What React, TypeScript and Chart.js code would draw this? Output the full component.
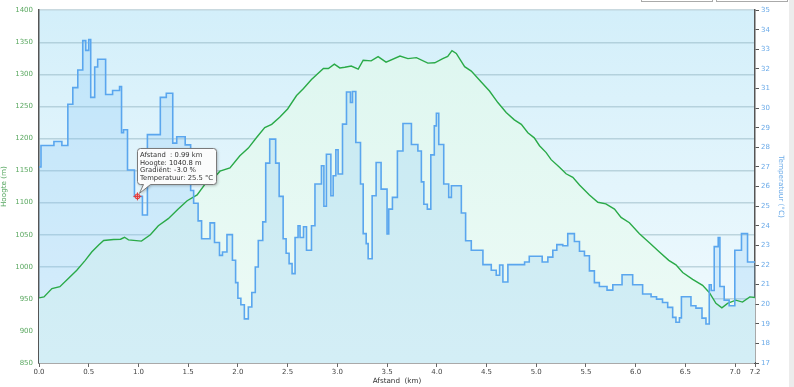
import React, { useEffect, useRef } from "react";
import { Chart, registerables } from "chart.js";

Chart.register(...registerables);

// Elevation profile (green), distance in km / height in m
const distanceKm = [
  0.0, 0.05, 0.13, 0.21, 0.3, 0.38, 0.465, 0.53, 0.6, 0.65, 0.75, 0.82, 0.86, 0.9, 1.03,
  1.12, 1.2, 1.3, 1.4, 1.49, 1.59, 1.67, 1.72, 1.82, 1.92, 2.02, 2.105, 2.19, 2.27, 2.34,
  2.42, 2.5, 2.59, 2.66, 2.74, 2.86, 2.91, 2.97, 3.025, 3.075, 3.14, 3.21, 3.26, 3.34, 3.41,
  3.49, 3.63, 3.71, 3.795, 3.91, 3.98, 4.06, 4.11, 4.153, 4.196, 4.28, 4.347, 4.447, 4.53,
  4.614, 4.698, 4.78, 4.85, 4.916, 4.98, 5.033, 5.1, 5.15, 5.234, 5.3, 5.368, 5.435, 5.535,
  5.62, 5.7, 5.787, 5.853, 5.937, 6.038, 6.138, 6.239, 6.333, 6.405, 6.473, 6.573, 6.673,
  6.74, 6.807, 6.867, 6.924, 7.007, 7.074, 7.148, 7.2,
];
const elevationM = [
  951.5, 953, 966, 969, 982.6, 994.5, 1010, 1023, 1034, 1041, 1042.5, 1043, 1046, 1042, 1040,
  1050, 1064, 1075, 1090, 1103, 1112, 1129, 1132, 1149, 1154, 1173, 1185, 1202, 1217, 1222,
  1233, 1246, 1267, 1278, 1292, 1309, 1309, 1316, 1310, 1311, 1313, 1308, 1322, 1321, 1327.5,
  1319, 1328.6, 1324.5, 1326, 1317.5, 1318, 1324.5, 1328, 1337, 1332.6, 1312, 1305, 1288, 1274,
  1256, 1240.5, 1229, 1222, 1209, 1201, 1188.7, 1178, 1167, 1155, 1145, 1139.5, 1127.6, 1112,
  1100.6, 1098, 1090, 1077, 1068.6, 1051.5, 1037.5, 1023, 1010, 1003, 991, 980.5, 971,
  960, 943, 936, 943, 948, 945, 953, 952,
];

// Temperature (blue, stepped), distance in km / temperature in °C
const tempDistanceKm = [
  0.0, 0.02, 0.15, 0.23, 0.29, 0.34, 0.39, 0.44, 0.47, 0.5, 0.52, 0.56, 0.59, 0.67, 0.74,
  0.81, 0.83, 0.85, 0.89, 0.96, 1.04, 1.09, 1.22, 1.28, 1.345, 1.385, 1.47, 1.525, 1.555,
  1.6, 1.635, 1.72, 1.765, 1.815, 1.845, 1.89, 1.945, 1.977, 2.0, 2.03, 2.065, 2.105, 2.14,
  2.175, 2.205, 2.25, 2.28, 2.32, 2.38, 2.415, 2.455, 2.485, 2.515, 2.545, 2.575, 2.605,
  2.625, 2.66, 2.69, 2.74, 2.775, 2.84, 2.865, 2.89, 2.935, 2.958, 2.985, 3.008, 3.052,
  3.092, 3.132, 3.152, 3.186, 3.233, 3.26, 3.29, 3.31, 3.35, 3.39, 3.44, 3.5, 3.517, 3.554,
  3.604, 3.66, 3.745, 3.81, 3.845, 3.87, 3.905, 3.94, 3.975, 3.996, 4.02, 4.07, 4.12, 4.147,
  4.247, 4.29, 4.347, 4.464, 4.548, 4.598, 4.632, 4.665, 4.715, 4.883, 4.93, 5.06, 5.117,
  5.167, 5.207, 5.267, 5.317, 5.384, 5.435, 5.485, 5.535, 5.585, 5.635, 5.712, 5.77, 5.863,
  5.97, 6.07, 6.155, 6.21, 6.27, 6.322, 6.372, 6.405, 6.44, 6.46, 6.556, 6.606, 6.667, 6.707,
  6.74, 6.76, 6.79, 6.83, 6.847, 6.89, 6.94, 6.997, 7.064, 7.125, 7.2,
];
const temperatureC = [
  27.0, 28.1, 28.3, 28.1, 30.2, 31.05, 31.95, 33.45, 32.95, 33.5, 30.55, 32.1, 32.5, 30.7, 30.9,
  31.1, 28.75, 28.9, 26.85, 25.5, 24.55, 28.65, 30.55, 30.76, 28.22, 28.54, 28.13, 25.8, 25.15,
  24.25, 23.34, 24.15, 23.15, 22.49, 22.66, 23.55, 22.24, 21.1, 20.3, 19.97, 19.25, 19.86, 20.6,
  21.9, 23.25, 24.2, 27.2, 28.42, 27.2, 25.5, 23.34, 22.6, 22.07, 21.56, 23.4, 24.0,
  23.4, 23.95, 22.75, 24.0, 26.13, 27.06, 25.0, 27.65, 25.53, 26.55, 27.88, 26.64, 29.19,
  30.83, 30.29, 30.85, 28.25, 26.13, 23.6, 23.09, 22.32, 25.53, 27.23, 25.87, 23.58, 24.85, 25.45,
  27.82, 29.22, 28.15, 27.82, 26.24, 25.1, 24.85, 27.62, 29.1, 29.74, 28.15, 26.13, 25.45, 26.04,
  24.65, 23.24, 22.75, 22.02, 21.73, 21.48, 22.0, 21.13, 22.02, 22.15, 22.45, 22.15, 22.4,
  22.75, 23.04, 22.98, 23.6, 23.2, 22.7, 22.47, 21.7, 21.1, 20.9, 20.72, 20.99, 21.5,
  20.99, 20.52, 20.38, 20.26, 20.09, 19.84, 19.33, 19.08, 19.3, 20.38, 19.92, 19.8, 19.29, 18.99,
  20.99, 20.7, 22.94, 23.4, 20.9, 20.21, 19.92, 22.75, 23.6, 22.15, 22.15,
];

const xTickValues = [0, 0.5, 1.0, 1.5, 2.0, 2.5, 3.0, 3.5, 4.0, 4.5, 5.0, 5.5, 6.0, 6.5, 7.0, 7.2];

const tooltipPoint = { km: 0.99, temp: 25.5 };
const tooltipLines = [
  "Afstand  : 0.99 km",
  "Hoogte: 1040.8 m",
  "Gradiënt: -3.0 %",
  "Temperatuur: 25.5 °C",
];

const FONT = "'DejaVu Sans', Verdana, sans-serif";

const backgroundPlugin = {
  id: "plotBackground",
  beforeDraw(chart: any) {
    const { ctx, chartArea } = chart;
    if (!chartArea) return;
    const { left, top, right, bottom } = chartArea;
    const g = ctx.createLinearGradient(0, top, 0, bottom);
    g.addColorStop(0, "#d3effa");
    g.addColorStop(1, "#f3fbfe");
    ctx.save();
    ctx.fillStyle = g;
    ctx.fillRect(left, top, right - left, bottom - top);
    ctx.restore();
  },
};

const tooltipPlugin = {
  id: "fixedTooltip",
  afterDraw(chart: any) {
    const ctx = chart.ctx;
    const px = chart.scales.x.getPixelForValue(tooltipPoint.km);
    const py = chart.scales.y1.getPixelForValue(tooltipPoint.temp);
    const x0 = Math.round(px) + 0.5;
    const y0 = Math.round(py - 48) + 0.5;
    const w = 79;
    const h = 36;
    const r = 3;
    ctx.save();
    ctx.beginPath();
    ctx.moveTo(x0 + r, y0);
    ctx.lineTo(x0 + w - r, y0);
    ctx.arcTo(x0 + w, y0, x0 + w, y0 + r, r);
    ctx.lineTo(x0 + w, y0 + h - r);
    ctx.arcTo(x0 + w, y0 + h, x0 + w - r, y0 + h, r);
    ctx.lineTo(x0 + 13, y0 + h);
    ctx.lineTo(px + 2, py - 3);
    ctx.lineTo(x0 + 6, y0 + h);
    ctx.lineTo(x0 + r, y0 + h);
    ctx.arcTo(x0, y0 + h, x0, y0 + h - r, r);
    ctx.lineTo(x0, y0 + r);
    ctx.arcTo(x0, y0, x0 + r, y0, r);
    ctx.closePath();
    ctx.shadowColor = "rgba(0,0,0,0.3)";
    ctx.shadowBlur = 3;
    ctx.shadowOffsetX = 1;
    ctx.shadowOffsetY = 1;
    ctx.fillStyle = "rgba(255,255,255,0.96)";
    ctx.fill();
    ctx.shadowColor = "transparent";
    ctx.strokeStyle = "#7a7a7a";
    ctx.lineWidth = 1;
    ctx.stroke();

    ctx.fillStyle = "#333";
    ctx.font = `6.8px ${FONT}`;
    ctx.textBaseline = "middle";
    ctx.textAlign = "left";
    tooltipLines.forEach((line, i) => {
      ctx.fillText(line, x0 + 2.5, y0 + 6.7 + i * 7.67);
    });

    // marker
    ctx.strokeStyle = "#e53935";
    ctx.lineWidth = 1;
    ctx.beginPath();
    ctx.arc(px, py, 2.5, 0, Math.PI * 2);
    ctx.fillStyle = "rgba(255,140,140,0.6)";
    ctx.fill();
    ctx.stroke();
    ctx.beginPath();
    ctx.moveTo(px - 4, py);
    ctx.lineTo(px + 4, py);
    ctx.moveTo(px, py - 4);
    ctx.lineTo(px, py + 4);
    ctx.stroke();
    ctx.restore();
  },
};

export default function App() {
  const canvasRef = useRef<HTMLCanvasElement | null>(null);

  useEffect(() => {
    const canvas = canvasRef.current;
    if (!canvas) return;
    Chart.defaults.font.family = FONT;

    const elevationData = distanceKm.map((x, i) => ({ x, y: elevationM[i] }));
    const temperatureData = tempDistanceKm.map((x, i) => ({ x, y: temperatureC[i] }));

    const chart = new Chart(canvas, {
      type: "line",
      data: {
        datasets: [
          {
            label: "Hoogte",
            data: elevationData,
            yAxisID: "y",
            borderColor: "#2aaa48",
            borderWidth: 1.4,
            pointRadius: 0,
            tension: 0,
            fill: "start",
            order: 2,
            backgroundColor: (c: any) => {
              const area = c.chart.chartArea;
              if (!area) return "#e6f9f1";
              const g = c.chart.ctx.createLinearGradient(0, area.top, 0, area.bottom);
              g.addColorStop(0, "#dcf6ef");
              g.addColorStop(1, "#eefbf6");
              return g;
            },
          },
          {
            label: "Temperatuur",
            data: temperatureData,
            yAxisID: "y1",
            stepped: "before",
            borderColor: "#5aa6ee",
            borderWidth: 1.6,
            pointRadius: 0,
            fill: "start",
            order: 1,
            backgroundColor: "rgba(120,190,245,0.22)",
          },
        ],
      },
      options: {
        responsive: false,
        animation: false,
        layout: { padding: { top: 8, left: 0, right: 0, bottom: 0 } },
        plugins: {
          legend: { display: false },
          tooltip: { enabled: false },
          filler: { drawTime: "beforeDatasetsDraw" },
        } as any,
        scales: {
          x: {
            type: "linear",
            min: 0,
            max: 7.2,
            afterBuildTicks: (s: any) => {
              s.ticks = xTickValues.map((v) => ({ value: v }));
            },
            afterFit: (s: any) => {
              s.height = 24;
            },
            grid: { drawOnChartArea: false, drawTicks: true, tickLength: 4, color: "#666", lineWidth: 1 },
            border: { color: "#555", width: 1.5 },
            ticks: {
              autoSkip: false,
              maxRotation: 0,
              padding: 1,
              color: "#444",
              font: { size: 7 },
              callback: (v: any) => Number(v).toFixed(1),
            },
            title: {
              display: true,
              text: "Afstand  (km)",
              color: "#333",
              font: { size: 7.2 },
              padding: { top: 0, bottom: 1.5 },
            },
          },
          y: {
            position: "left",
            min: 850,
            max: 1400,
            z: 1,
            afterFit: (s: any) => {
              s.width = 39;
            },
            ticks: {
              stepSize: 50,
              color: "#5aa860",
              padding: 6,
              font: { size: 7 },
              callback: (v: any) => String(v),
            },
            grid: {
              drawTicks: false,
              lineWidth: 1.5,
              color: (c: any) =>
                c.tick && c.tick.value === 850 ? "rgba(0,0,0,0)" : "rgba(135,170,185,0.45)",
            },
            border: { color: "#555", width: 1.5 },
            title: {
              display: true,
              text: "Hoogte (m)",
              color: "#55a65f",
              font: { size: 7.2 },
              padding: { top: 0, bottom: 0 },
            },
          },
          y1: {
            position: "right",
            min: 17,
            max: 35,
            afterFit: (s: any) => {
              s.width = 39;
            },
            ticks: {
              stepSize: 1,
              autoSkip: false,
              color: "#6aaae8",
              padding: 2,
              font: { size: 7 },
              callback: (v: any) => String(v),
            },
            grid: { drawOnChartArea: false, drawTicks: true, tickLength: 4, color: "#555" },
            border: { color: "#555", width: 1.5 },
            title: {
              display: true,
              text: "Temperatuur (°C)",
              color: "#6aaae8",
              font: { size: 7.2 },
              padding: { top: 8.5, bottom: 0 },
            },
          },
        },
      } as any,
      plugins: [backgroundPlugin, tooltipPlugin],
    });

    return () => chart.destroy();
  }, []);

  return (
    <div style={{ position: "absolute", left: 0, top: 0, width: 794, height: 387, background: "#fff", overflow: "hidden" }}>
      <canvas ref={canvasRef} width={794} height={387} style={{ display: "block" }} />
      <div style={{ position: "absolute", left: 641, top: -20, width: 70, height: 20, border: "1px solid #aaa", background: "#fff" }} />
      <div style={{ position: "absolute", left: 716, top: -20, width: 70, height: 20, border: "1px solid #aaa", background: "#fff" }} />
      <div style={{ position: "absolute", left: 789, top: 0, width: 5, height: 387, background: "#ececec" }} />
    </div>
  );
}
